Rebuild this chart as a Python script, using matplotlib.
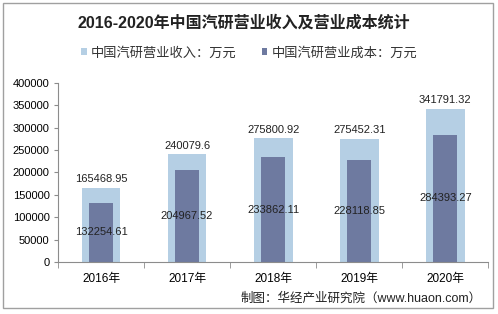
import matplotlib
matplotlib.use("Agg")
import matplotlib.pyplot as plt
from matplotlib.patches import Rectangle
import numpy as np

plt.rcParams['font.family'] = ['Liberation Sans', 'Noto Sans CJK SC']

years = ["2016年", "2017年", "2018年", "2019年", "2020年"]
revenue = [165468.95, 240079.6, 275800.92, 275452.31, 341791.32]
cost = [132254.61, 204967.52, 233862.11, 228118.85, 284393.27]
revenue_labels = ["165468.95", "240079.6", "275800.92", "275452.31", "341791.32"]
cost_labels = ["132254.61", "204967.52", "233862.11", "228118.85", "284393.27"]

light = "#b5cfe4"
dark = "#6e7aa0"
gray = "#8c8c8c"

fig = plt.figure(figsize=(4.98, 3.14), dpi=100)
ax = fig.add_axes([0.1165, 0.166, 0.864, 0.570])

x = np.arange(len(years))
ax.bar(x, revenue, width=0.45, color=light, zorder=1,
       label="中国汽研营业收入：万元")
ax.bar(x, cost, width=0.28, color=dark, zorder=2,
       label="中国汽研营业成本：万元")

for i in range(len(years)):
    ax.text(x[i], revenue[i] + 8000, revenue_labels[i], ha='center',
            va='bottom', fontsize=8, color="#222222")
    ax.text(x[i], cost[i] / 2, cost_labels[i], ha='center',
            va='center', fontsize=8, color="#222222", zorder=3)

ax.set_xlim(-0.5, len(years) - 0.5)
ax.set_ylim(0, 400000)
ax.set_yticks(np.arange(0, 400001, 50000))
ax.tick_params(axis='y', labelsize=8, length=3, color=gray, pad=3)
ax.set_xticks(x)
ax.set_xticklabels(years, fontsize=8.5)
ax.tick_params(axis='x', length=0, pad=8)
ax.set_xticks(np.arange(-0.5, len(years), 1), minor=True)
ax.tick_params(axis='x', which='minor', length=4, color=gray)
for s in ['top', 'right']:
    ax.spines[s].set_visible(False)
for s in ['left', 'bottom']:
    ax.spines[s].set_color(gray)

fig.text(0.49, 0.927, "2016-2020年中国汽研营业收入及营业成本统计",
         ha='center', va='center', fontsize=11.5, fontweight='bold',
         color="#222222")
fig.legend(loc='center', bbox_to_anchor=(0.5, 0.831), ncol=2,
           frameon=False, fontsize=9.5, handlelength=0.45, handleheight=0.45,
           columnspacing=1.9, handletextpad=0.3, labelcolor="#333333")

fig.text(0.968, 0.05, "制图：华经产业研究院（www.huaon.com）", ha='right',
         va='center', fontsize=9, color="#222222")

fig.patches.append(Rectangle((0.006, 0.018), 0.984, 0.972,
                             transform=fig.transFigure, fill=False,
                             edgecolor="#a0a0a0", linewidth=1))

fig.savefig("out.png", dpi=100)
